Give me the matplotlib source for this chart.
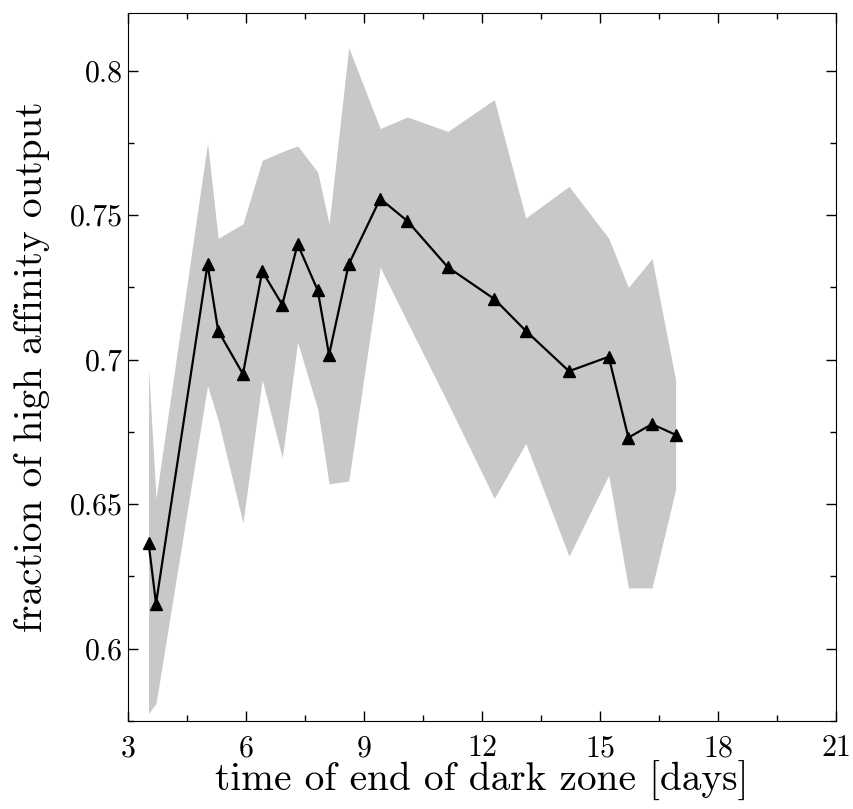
import matplotlib
matplotlib.use("Agg")
import matplotlib.pyplot as plt
from matplotlib.ticker import MultipleLocator

plt.rcParams['font.family'] = 'serif'
plt.rcParams['font.serif'] = ['cmr10', 'DejaVu Serif']
plt.rcParams['mathtext.fontset'] = 'cm'
plt.rcParams['axes.formatter.use_mathtext'] = True

# time of end of dark zone [days]
days = [3.52, 3.71, 5.02, 5.29, 5.92, 6.41, 6.92, 7.31, 7.82, 8.11, 8.61,
        9.41, 10.10, 11.13, 12.31, 13.11, 14.21, 15.22, 15.72, 16.32, 16.92]
# mean fraction of high affinity output
mean_frac = [0.6366, 0.6156, 0.733, 0.710, 0.695, 0.7306, 0.719, 0.740, 0.724, 0.7017, 0.733,
             0.7557, 0.748, 0.732, 0.721, 0.710, 0.696, 0.701, 0.673, 0.6777, 0.674]
# band edges
upper = [0.697, 0.652, 0.775, 0.742, 0.747, 0.769, 0.772, 0.774, 0.765, 0.747, 0.808,
         0.780, 0.784, 0.779, 0.790, 0.749, 0.760, 0.742, 0.725, 0.735, 0.693]
lower = [0.5775, 0.581, 0.691, 0.679, 0.6435, 0.693, 0.666, 0.706, 0.683, 0.657, 0.658,
         0.732, 0.713, 0.685, 0.652, 0.671, 0.632, 0.660, 0.621, 0.621, 0.655]

fig = plt.figure(figsize=(8.54, 8.09), dpi=100)
ax = fig.add_axes([0.150, 0.109, 0.829, 0.875])

ax.fill_between(days, lower, upper, color='#c8c8c8', linewidth=0)
ax.plot(days, mean_frac, color='black', linewidth=1.6, marker='^', markersize=8)

ax.set_xlim(3, 21)
ax.set_ylim(0.575, 0.82)
ax.xaxis.set_major_locator(MultipleLocator(3))
ax.xaxis.set_minor_locator(MultipleLocator(1.5))
ax.yaxis.set_minor_locator(MultipleLocator(0.025))
ax.set_yticks([0.6, 0.65, 0.7, 0.75, 0.8])
ax.set_yticklabels(['0.6', '0.65', '0.7', '0.75', '0.8'])
ax.tick_params(which='both', direction='in', top=True, right=True, labelsize=21.5)
ax.tick_params(which='major', length=7, width=1)
ax.tick_params(which='minor', length=4, width=1)
ax.tick_params(axis='x', pad=10)

ax.set_xlabel('time of end of dark zone [days]', fontsize=28.3)
ax.set_ylabel('fraction of high affinity output', fontsize=28.3)
ax.xaxis.set_label_coords(0.5, -0.057)
ax.yaxis.set_label_coords(-0.11, 0.5)

fig.savefig('out.png', dpi=100)
